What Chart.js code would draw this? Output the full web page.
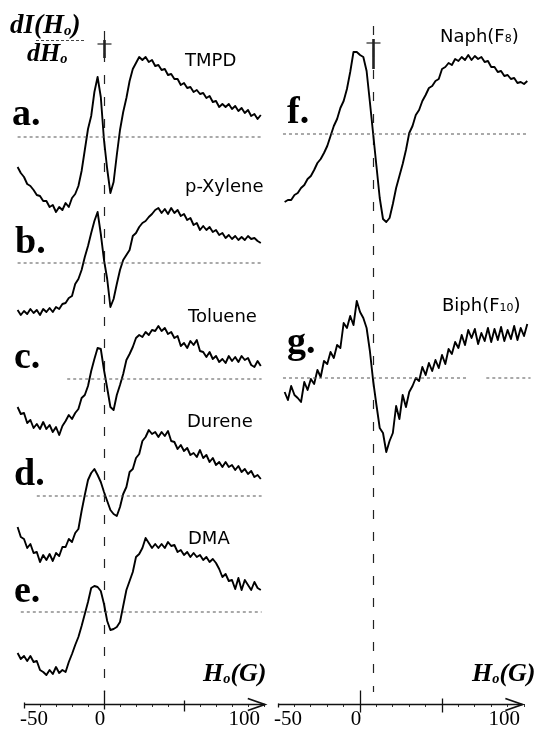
<!DOCTYPE html>
<html><head><meta charset="utf-8">
<script src="https://cdn.jsdelivr.net/npm/chart.js@4.4.1/dist/chart.umd.min.js"></script>
<style>
html,body{margin:0;padding:0;background:#fff;}
body{width:545px;height:731px;position:relative;overflow:hidden;}
canvas{position:absolute;top:0;}
.lbl{position:absolute;line-height:1;white-space:nowrap;color:#000;z-index:5;}
</style></head><body>
<canvas id="cL" width="272" height="731" style="left:0"></canvas>
<canvas id="cR" width="273" height="731" style="left:272px"></canvas>
<script>
// ---------------- DATA ----------------
// magnetic field offset H0 (G), left panel samples
const fieldLeft = [
 -54,-52,-50,-48,-46,-44,-42,-40,-38,-36,-34,
 -32,-30,-28,-26,-24,-22,-20,-18,-16,-14,-12,
 -10,-8,-6,-4,-2,0,2,4,6,8,10,
 12,14,16,18,20,22,24,26,28,30,32,
 34,36,38,40,42,44,46,48,50,52,54,
 56,58,60,62,64,66,68,70,72,74,76,
 78,80,82,84,86,88,90,92,94,96,98];
// right panel samples
const fieldRight = [
 -46,-44,-42,-40,-38,-36,-34,-32,-30,-28,-26,-24,-22,-20,-18,
 -16,-14,-12,-10,-8,-6,-4,-2,0,2,4,6,8,10,12,
 14,16,18,20,22,24,26,28,30,32,34,36,38,40,42,
 44,46,48,50,52,54,56,58,60,62,64,66,68,70,72,
 74,76,78,80,82,84,86,88,90,92,94,96,98,100,102];

// dI(H0)/dH0 signals (arbitrary units, relative to each trace's zero line)
const tmpd = [
 -30,-36,-40,-47,-49,-53,-58,-59,-64,-64,-70,
 -68,-75,-70,-73,-66,-70,-61,-57,-49,-34,-13,
 8,21,45,60,40,-3,-32,-56,-45,-18,7,
 25,39,56,68,74,80,77,80,75,77,71,
 72,67,68,62,63,58,58,52,54,49,50,
 45,47,43,44,39,41,35,36,30,33,30,
 33,28,31,26,29,24,27,21,23,18,22];
const pXylene = [
 -47,-52,-48,-51,-46,-50,-47,-52,-46,-49,-45,
 -49,-44,-46,-41,-40,-35,-33,-21,-16,-7,6,
 17,30,42,51,29,3,-16,-44,-36,-21,-7,
 3,8,13,27,30,36,40,42,46,49,53,
 55,50,54,49,55,50,53,47,49,43,45,
 38,40,33,37,33,36,31,33,28,30,25,
 28,24,27,23,26,23,27,24,25,22,20];
const toluene = [
 -28,-35,-34,-44,-41,-49,-45,-50,-43,-50,-46,
 -53,-48,-56,-47,-42,-36,-40,-34,-30,-19,-16,
 -7,8,20,31,30,9,-9,-28,-31,-16,-6,
 5,19,25,32,41,44,42,47,44,49,48,
 53,48,51,45,47,41,43,33,36,31,38,
 34,39,28,27,22,27,20,23,17,20,16,
 23,18,22,17,23,19,21,14,12,18,13];
const durene = [
 -31,-41,-43,-52,-48,-57,-56,-66,-59,-64,-58,
 -65,-57,-60,-51,-51,-43,-46,-37,-33,-15,1,
 16,23,27,21,14,4,-5,-14,-18,-20,-11,
 2,9,24,27,38,42,55,59,66,62,64,
 59,64,60,65,55,54,47,51,45,48,41,
 43,39,46,38,41,34,38,31,34,29,34,
 29,31,26,30,24,27,22,25,19,21,17];
const dma = [
 -41,-47,-44,-49,-44,-50,-49,-58,-60,-63,-58,
 -62,-55,-61,-58,-60,-50,-42,-33,-25,-14,-2,
 10,24,26,25,21,8,-9,-18,-17,-15,-10,
 6,22,31,40,55,58,64,74,69,64,68,
 64,68,64,70,66,67,60,62,57,60,55,
 59,55,57,52,55,50,53,49,43,35,38,
 31,32,23,34,22,32,27,22,30,24,22];
const naphF8 = [
 -68,-66,-66,-61,-59,-54,-51,-45,-42,-36,-29,-25,-19,-12,-2,
 8,15,26,33,45,62,82,82,79,77,63,32,0,-32,-64,
 -85,-88,-84,-70,-54,-42,-30,-16,1,8,19,24,33,39,46,
 48,53,55,65,67,71,69,75,73,77,74,79,74,78,75,
 77,72,73,67,67,62,63,58,59,55,56,51,52,50,53];
const biphF10 = [
 -14,-22,-8,-17,-20,-24,-4,-12,-1,-6,8,1,17,14,26,
 20,33,30,55,50,62,53,77,66,60,50,27,-3,-27,-50,
 -55,-74,-63,-55,-28,-41,-17,-29,-14,-8,0,-3,11,3,15,
 7,18,10,23,14,29,24,36,30,43,33,48,40,49,34,
 45,37,50,36,49,38,51,37,48,39,52,38,50,42,54];

// zero-line extents (G) for each trace
const zeroLineLeft = {tmpd:[[-54,98.5]], pXylene:[[-54,98.5]], toluene:[[-23,98.5]], durene:[[-42,98.5]], dma:[[-52,98.5]]};
const zeroLineRight = {naphF8:[[-47,102]], biphF10:[[-47,65],[77,104]]};

// axis ticks
const xTickValues = [-50,-40,-30,-20,-10,0,10,20,30,40,50,60,70,80,90,100];
const tickLabelValues = [-50, 0, 100];
const tickLabelText = ['-50', '0', '100'];

// ---------------- LAYOUT ----------------
const AXIS_H = 27;
const AREA_H = 731 - AXIS_H;
const baselinePx = {tmpd:137, pXylene:263, toluene:379, durene:496, dma:612, naphF8:134, biphF10:378};

const decor = {
  id: 'decor',
  beforeDatasetsDraw(chart, args, o) {
    const {ctx, chartArea: ca, scales: {x}} = chart;
    const rx = Math.round(x.getPixelForValue(o.refX)) + 0.5;
    ctx.save();
    ctx.strokeStyle = '#222';
    ctx.lineWidth = 1.2;
    ctx.setLineDash([9, 13]);
    ctx.beginPath(); ctx.moveTo(rx, o.refTop); ctx.lineTo(rx, ca.bottom - 12); ctx.stroke();
    ctx.setLineDash([]);
    ctx.lineWidth = 1.2;
    ctx.beginPath(); ctx.moveTo(rx - 7, o.markY); ctx.lineTo(rx + 7, o.markY); ctx.stroke();
    ctx.lineWidth = 2.6;
    ctx.beginPath(); ctx.moveTo(rx, o.markY - 4); ctx.lineTo(rx, o.markY + o.markLen); ctx.stroke();
    ctx.restore();
  },
  afterDraw(chart, args, o) {
    const {ctx, chartArea: ca, scales: {x}} = chart;
    const yA = ca.bottom + 0.5;
    ctx.save();
    ctx.strokeStyle = '#111';
    ctx.lineWidth = 1.3;
    const x0 = x.getPixelForValue(o.axisFrom), tip = x.getPixelForValue(o.axisTo);
    ctx.beginPath(); ctx.moveTo(x0, yA); ctx.lineTo(tip, yA); ctx.stroke();
    ctx.lineWidth = 1.8;
    ctx.beginPath(); ctx.moveTo(tip - 17, yA - 6); ctx.lineTo(tip, yA); ctx.lineTo(tip - 17, yA + 6); ctx.stroke();
    ctx.lineWidth = 1.3;
    o.majors.forEach(m => {
      const px = Math.round(x.getPixelForValue(m.v)) + 0.5;
      ctx.beginPath(); ctx.moveTo(px, yA - m.up); ctx.lineTo(px, yA + m.down); ctx.stroke();
    });
    ctx.restore();
  }
};

function makeChart(id, xs, traceList, zeroLines, cfg) {
  const scales = {
    x: {
      type: 'linear', min: cfg.xMin, max: cfg.xMax,
      afterBuildTicks: s => { s.ticks = xTickValues.map(v => ({value: v})); },
      afterFit: s => { s.height = AXIS_H; },
      grid: {drawOnChartArea: false, drawTicks: true, tickLength: 3, color: '#333', lineWidth: 1},
      border: {display: false},
      ticks: {
        autoSkip: false, maxRotation: 0, minRotation: 0, align: 'inner', labelOffset: -4, padding: 0, color: '#000',
        font: {family: 'Liberation Serif', size: 21, lineHeight: 1.2},
        callback: v => { const i = tickLabelValues.indexOf(v); return i >= 0 ? tickLabelText[i] : ''; }
      }
    }
  };
  const datasets = [];
  traceList.forEach(t => {
    const B = baselinePx[t.key];
    scales['y_' + t.key] = {type: 'linear', display: false, min: B - AREA_H, max: B};
    (zeroLines[t.key] || []).forEach(r => {
      datasets.push({label: t.name + ' zero', data: [{x: r[0], y: 0}, {x: r[1], y: 0}], yAxisID: 'y_' + t.key,
        borderColor: '#555', borderWidth: 1, borderDash: [3, 3], pointRadius: 0, fill: false});
    });
    datasets.push({label: t.name, data: xs.map((x, i) => ({x, y: t.values[i]})), yAxisID: 'y_' + t.key,
      borderColor: '#000', borderWidth: 1.9, pointRadius: 0, tension: 0, fill: false, borderJoinStyle: 'round'});
  });
  return new Chart(document.getElementById(id), {
    type: 'line',
    data: {datasets},
    options: {
      responsive: false, animation: false, devicePixelRatio: 1,
      layout: {padding: {left: cfg.padLeft, right: 0, top: 0, bottom: 0}},
      scales,
      plugins: {legend: {display: false}, tooltip: {enabled: false}, decor: cfg.decor}
    },
    plugins: [decor]
  });
}

makeChart('cL', fieldLeft, [
  {key: 'tmpd', name: 'TMPD', values: tmpd},
  {key: 'pXylene', name: 'p-Xylene', values: pXylene},
  {key: 'toluene', name: 'Toluene', values: toluene},
  {key: 'durene', name: 'Durene', values: durene},
  {key: 'dma', name: 'DMA', values: dma}
], zeroLineLeft, {xMin: -55, xMax: 105, padLeft: 16,
  decor: {refX: 0, refTop: 31, markY: 44, markLen: 14, axisFrom: -50, axisTo: 100.5,
    majors: [{v: -50, up: 2, down: 4}, {v: 0, up: 14, down: 5}, {v: 50, up: 4, down: 7}]}});

makeChart('cR', fieldRight, [
  {key: 'naphF8', name: 'Naph(F8)', values: naphF8},
  {key: 'biphF10', name: 'Biph(F10)', values: biphF10}
], zeroLineRight, {xMin: -53.7, xMax: 112.8, padLeft: 0,
  decor: {refX: 8, refTop: 26, markY: 43, markLen: 26, axisFrom: -50, axisTo: 99,
    majors: [{v: -50, up: 1, down: 3}, {v: 0, up: 14, down: 8}, {v: 50, up: 6, down: 8}]}});

// ---------------- TEXT ----------------
const K = {serif: 0.8375, sans: 0.846};
function addLabel(html, x, baseline, kind, size, style) {
  const d = document.createElement('div');
  d.className = 'lbl';
  d.innerHTML = html;
  const fam = kind === 'serif' ? "'Liberation Serif', serif" : "'DejaVu Sans', sans-serif";
  d.style.cssText += `left:${x}px;top:${baseline - K[kind] * size}px;font-family:${fam};font-size:${size}px;${style || ''}`;
  document.body.appendChild(d);
}
const bold = 'font-weight:bold;';
const bi = 'font-weight:bold;font-style:italic;';
[['a.', 12, 125], ['b.', 15, 253], ['c.', 14, 368], ['d.', 14, 485], ['e.', 14, 602], ['f.', 287, 123], ['g.', 287, 353]]
  .forEach(l => addLabel(l[0], l[1], l[2], 'serif', 38, bold));
[['TMPD', 185, 66], ['p-Xylene', 185, 192], ['Toluene', 188, 322], ['Durene', 187, 427], ['DMA', 188, 544]]
  .forEach(l => addLabel(l[0], l[1], l[2], 'sans', 18));
addLabel('Naph(F<span style="font-size:11px">8</span>)', 440, 42, 'sans', 18);
addLabel('Biph(F<span style="font-size:11px">10</span>)', 442, 311, 'sans', 18);
const sub = '<span style="font-size:0.55em;position:relative;top:0.12em">o</span>';
addLabel('H' + sub + '(G)', 203, 682, 'serif', 26, bi);
addLabel('H' + sub + '(G)', 472, 682, 'serif', 26, bi);
addLabel('dI(H' + sub + ')', 10, 34, 'serif', 27, bi);
addLabel('dH' + sub, 27, 62, 'serif', 26, bi);
const frac = document.createElement('div');
frac.style.cssText = 'position:absolute;left:36px;top:40px;width:48px;border-top:1px dashed #444;z-index:5;';
document.body.appendChild(frac);
</script></body></html>
